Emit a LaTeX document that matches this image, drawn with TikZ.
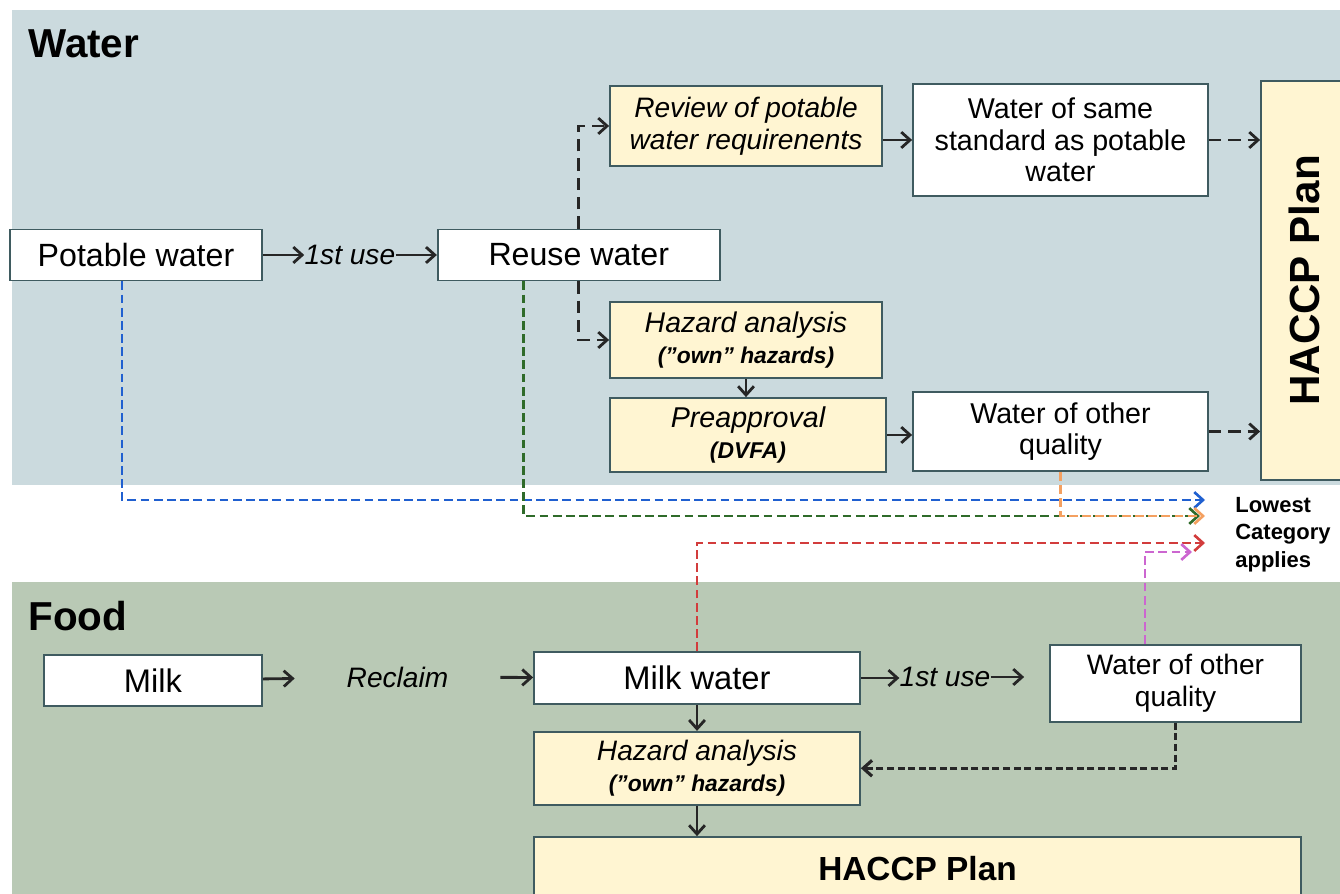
\documentclass[tikz,border=0pt]{standalone}
\usepackage{fontspec}
\setmainfont{Liberation Sans}
\usepackage{xcolor}
\definecolor{qwater}{HTML}{CBDADE}
\definecolor{qfood}{HTML}{B9C9B5}
\definecolor{qcream}{HTML}{FFF5D2}
\definecolor{qedge}{HTML}{3F5B60}
\definecolor{qblue}{HTML}{2060D0}
\definecolor{qgreen}{HTML}{2F6B2A}
\definecolor{qorange}{HTML}{F4A060}
\definecolor{qred}{HTML}{D23C3C}
\definecolor{qpink}{HTML}{CC66D0}
\usetikzlibrary{arrows.meta,positioning,calc}
\newcommand{\subtxt}[1]{{\bfseries\itshape\fontsize{13}{14}\selectfont #1}}

\begin{document}
\begin{tikzpicture}[
  box/.style={rectangle,draw=qedge,line width=1pt,fill=white,align=center,inner sep=2pt,font=\fontsize{18.3}{20}\selectfont},
  ybox/.style={box,fill=qcream},
  lbl/.style={inner sep=0pt,font=\itshape\fontsize{16}{18}\selectfont},
  arr/.style={-{Straight Barb[length=5pt,width=9pt]},line width=1.6pt,draw=black!85},
  dsh/.style={arr,dash pattern=on 7pt off 4pt},
  cdsh/.style={arr,line width=1.5pt,dash pattern=on 5pt off 2.5pt}
]
\useasboundingbox (0,0) rectangle (26.8,-17.88);
\fill[qwater] (0.24,-0.2) rectangle (26.8,-9.7);
\fill[qfood] (0.24,-11.64) rectangle (26.8,-17.88);
\node[anchor=base west,inner sep=0pt,font=\bfseries\fontsize{23}{26}\selectfont] (wtitle) at (0.56,-1.16) {Water};
\node[anchor=base west,inner sep=0pt,font=\bfseries\fontsize{23}{26}\selectfont] (ftitle) at (0.56,-12.6) {Food};

% water part
\node[box,minimum width=5.04cm,minimum height=1.02cm] (pw) at (2.72,-5.1) {Potable water};
\node[box,minimum width=5.64cm,minimum height=1.02cm,right=3.48cm of pw] (rw) {Reuse water};
\node[lbl] (use1) at ($(pw.east)!0.5!(rw.west)$) {1st use};
\node[ybox,minimum width=5.44cm,minimum height=1.6cm,font=\itshape\fontsize{16}{18}\selectfont] (rev) at (14.92,-2.52) {Review of potable\\water requirenents};
\node[box,minimum width=5.9cm,minimum height=2.24cm,font=\fontsize{16.3}{18}\selectfont] (ws) at (21.21,-2.8) {Water of same\\standard as potable\\water};
\node[ybox,rotate=90,minimum width=7.98cm,minimum height=1.74cm,font=\bfseries\fontsize{24}{28}\selectfont] (hp1) at (26.09,-5.61) {HACCP Plan};
\node[ybox,minimum width=5.44cm,minimum height=1.52cm,font=\itshape\fontsize{16.2}{18}\selectfont] (ha1) at (14.92,-6.8) {Hazard analysis\\\subtxt{(”own” hazards)}};
\node[ybox,minimum width=5.52cm,minimum height=1.48cm,font=\itshape\fontsize{16.3}{18}\selectfont] (pre) at (14.96,-8.7) {Preapproval\\\subtxt{(DVFA)}};
\node[box,minimum width=5.9cm,minimum height=1.58cm,font=\fontsize{16.3}{18}\selectfont] (wo1) at (21.21,-8.63) {Water of other\\quality};
\node[anchor=north west,align=left,inner sep=0pt,font=\bfseries\fontsize{12.5}{15.6}\selectfont] (lc) at (24.7,-9.94) {Lowest\\Category\\applies};

% food part
\node[box,minimum width=4.36cm,minimum height=1.02cm,font=\fontsize{18.6}{20}\selectfont] (milk) at (3.06,-13.61) {Milk};
\node[lbl,minimum width=4.1cm] (rec) at (7.95,-13.54) {Reclaim};
\node[box,minimum width=6.52cm,minimum height=1.04cm,font=\fontsize{18.6}{20}\selectfont] (mw) at (13.94,-13.56) {Milk water};
\node[lbl] (use2) at (18.9,-13.54) {1st use};
\node[box,minimum width=5.02cm,minimum height=1.54cm,font=\fontsize{16}{18}\selectfont] (wo2) at (23.51,-13.67) {Water of other\\quality};
\node[ybox,minimum width=6.52cm,minimum height=1.46cm,below=0.52cm of mw,font=\itshape\fontsize{16}{18}\selectfont] (ha2) {Hazard analysis\\\subtxt{(”own” hazards)}};
\node[ybox,minimum width=15.34cm,minimum height=1.26cm,font=\bfseries\fontsize{19}{22}\selectfont] (hp2) at (18.35,-17.37) {HACCP Plan};

% end points left of the label
\coordinate (tb) at (24.1,-10.0);
\coordinate (tg) at (24.0,-10.32);
\coordinate (to) at (24.1,-10.32);
\coordinate (tr) at (24.1,-10.86);
\coordinate (tp) at (23.84,-11.04);

\draw[arr] (pw) -- (use1);
\draw[arr] (use1) -- (rw);
\draw[dsh] (rw.north) |- (rev.west);
\draw[dsh] (rw.south) |- (ha1.west);
\draw[arr] (rev.east |- ws) -- (ws.west);
\draw[dsh] (ws.east) -- (ws.east -| hp1.north);
\draw[arr] (ha1.south) -- (ha1.south |- pre.north);
\draw[arr] (pre.east) -- (pre.east -| wo1.west);
\draw[dsh] (wo1.east) -- (wo1.east -| hp1.north);

\draw[cdsh,draw=qblue] ([xshift=-0.28cm]pw.south) |- (tb);
\draw[cdsh,draw=qgreen] ([xshift=-1.1cm]rw.south) |- (tg);
\draw[cdsh,draw=qorange] (wo1.south) |- (to);
\draw[cdsh,draw=qred] (mw.north) |- (tr);
\draw[cdsh,draw=qpink] ([xshift=-0.61cm]wo2.north) |- (tp);

\draw[arr] (milk) -- (rec);
\draw[arr] (rec) -- (mw);
\draw[arr] (mw.east) -- (mw.east -| use2.west);
\draw[arr,shorten >=5mm] (use2.east) -- (use2.east -| wo2.west);
\draw[arr] (mw) -- (ha2);
\draw[arr,dash pattern=on 4pt off 2pt,line width=1.8pt] (wo2.south) |- (ha2.east);
\draw[arr] (ha2.south) -- (ha2.south |- hp2.north);
\end{tikzpicture}
\end{document}
